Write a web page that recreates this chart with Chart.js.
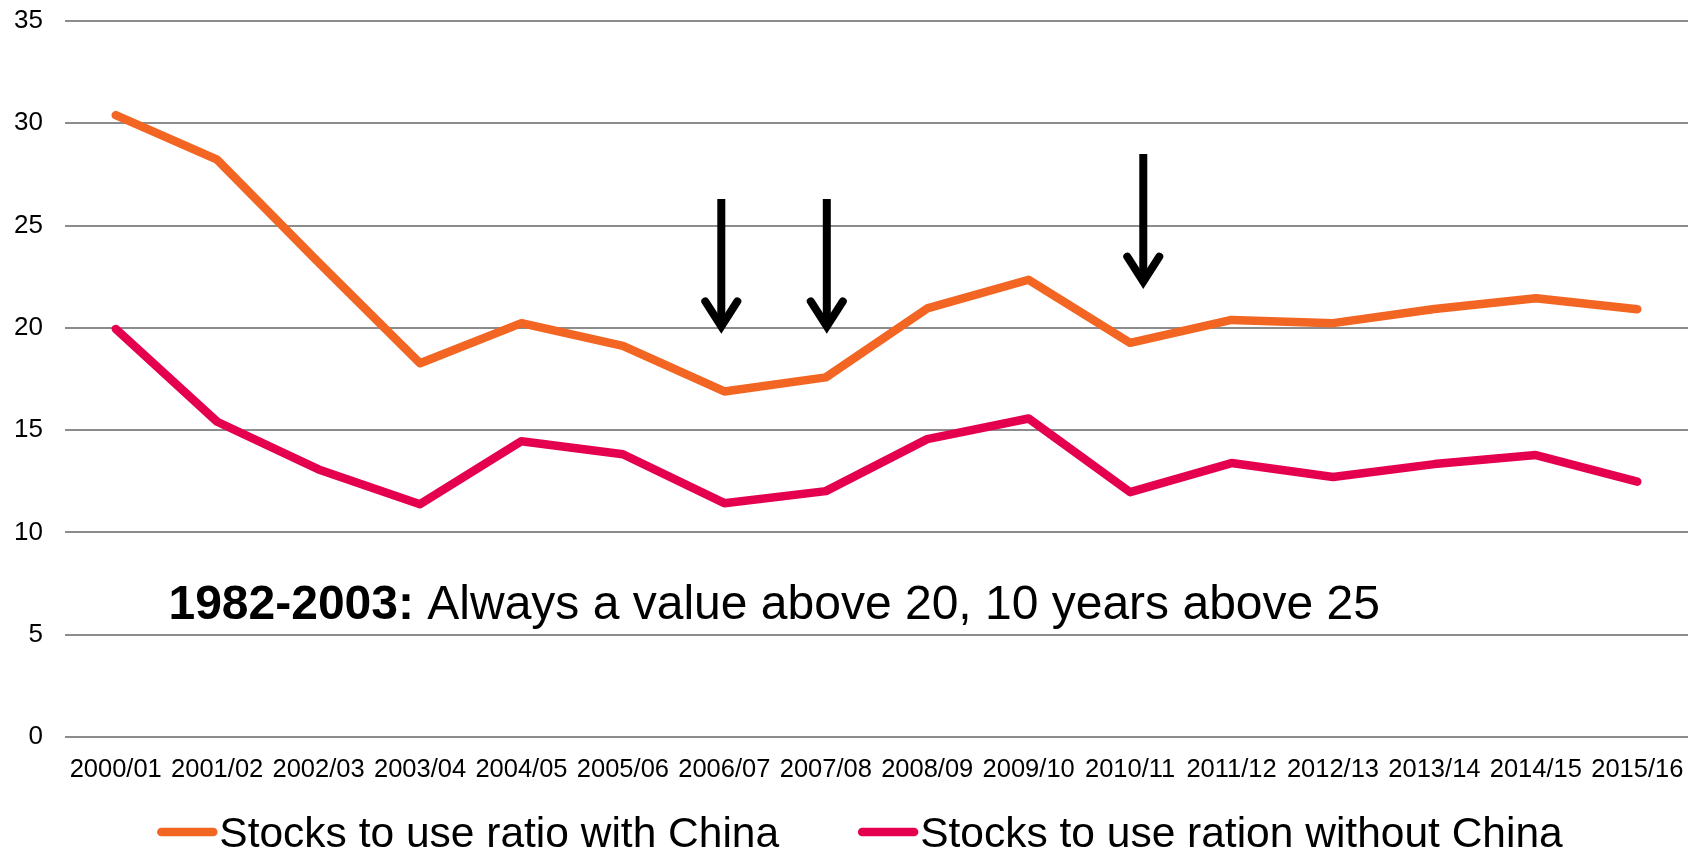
<!DOCTYPE html>
<html><head><meta charset="utf-8">
<script src="https://cdn.jsdelivr.net/npm/chart.js@4.4.1/dist/chart.umd.min.js"></script>
<style>html,body{margin:0;padding:0;background:#fff;overflow:hidden}</style>
</head><body>
<canvas id="c" width="1700" height="852"></canvas>
<script>
const categories = ['2000/01','2001/02','2002/03','2003/04','2004/05','2005/06','2006/07','2007/08','2008/09','2009/10','2010/11','2011/12','2012/13','2013/14','2014/15','2015/16'];
const withChina = [30.4, 28.22, 23.2, 18.27, 20.23, 19.12, 16.89, 17.58, 20.95, 22.35, 19.27, 20.39, 20.23, 20.92, 21.45, 20.91];
const withoutChina = [19.95, 15.41, 13.08, 11.38, 14.46, 13.82, 11.43, 12.02, 14.56, 15.57, 11.97, 13.39, 12.71, 13.34, 13.78, 12.48];
const seriesLabels = ['Stocks to use ratio with China', 'Stocks to use ration without China'];
const seriesColors = ['#F26522', '#E5004F'];
const yMin = 0, yMax = 35, yStep = 5;
// arrows: category index position, value where shaft starts, value of the head vertex
const arrowX = [5.97, 7.01, 10.13];
const arrowFrom = [26.3, 26.3, 28.5];
const arrowTo = [20.07, 20.07, 22.26];
const noteBold = '1982-2003:';
const noteRest = ' Always a value above 20, 10 years above 25';
const noteAt = {x: 0.52, y: 5.77};

const FONT = '"Liberation Sans", Arial, sans-serif';

const overlay = {
  id: 'overlay',
  afterDatasetsDraw(chart) {
    const ctx = chart.ctx, xs = chart.scales.x, ys = chart.scales.y;
    ctx.save();
    ctx.strokeStyle = '#000';
    ctx.lineWidth = 8;
    for (let i = 0; i < arrowX.length; i++) {
      const x = xs.getPixelForValue(arrowX[i]);
      const y0 = ys.getPixelForValue(arrowFrom[i]);
      const y1 = ys.getPixelForValue(arrowTo[i]);
      ctx.lineCap = 'butt';
      ctx.beginPath(); ctx.moveTo(x, y0); ctx.lineTo(x, y1); ctx.stroke();
      ctx.lineCap = 'round'; ctx.lineJoin = 'miter'; ctx.miterLimit = 10;
      ctx.beginPath(); ctx.moveTo(x - 16, y1 - 25); ctx.lineTo(x, y1); ctx.lineTo(x + 16, y1 - 25); ctx.stroke();
    }
    const nx = xs.getPixelForValue(noteAt.x), ny = ys.getPixelForValue(noteAt.y);
    ctx.fillStyle = '#000';
    ctx.textBaseline = 'alphabetic';
    ctx.textAlign = 'left';
    ctx.font = 'bold 48px ' + FONT;
    ctx.fillText(noteBold, nx, ny);
    const bw = ctx.measureText(noteBold).width;
    ctx.font = '48px ' + FONT;
    ctx.fillText(noteRest, nx + bw, ny);
    ctx.restore();
  },
  afterDraw(chart) {
    const ctx = chart.ctx;
    ctx.save();
    ctx.font = '42.5px ' + FONT;
    const lineLen = 60, gapText = 2, gapItems = 79;
    const widths = seriesLabels.map(t => ctx.measureText(t).width);
    const total = widths.reduce((a, w) => a + lineLen + gapText + w, 0) + gapItems;
    let x = (chart.width - total) / 2 + 10;
    const yLine = 832, yText = 847;
    for (let i = 0; i < seriesLabels.length; i++) {
      ctx.strokeStyle = seriesColors[i];
      ctx.lineWidth = 8.5; ctx.lineCap = 'round';
      ctx.beginPath(); ctx.moveTo(x + 4, yLine); ctx.lineTo(x + lineLen - 4, yLine); ctx.stroke();
      ctx.fillStyle = '#000'; ctx.textBaseline = 'alphabetic'; ctx.textAlign = 'left';
      ctx.fillText(seriesLabels[i], x + lineLen + gapText, yText);
      x += lineLen + gapText + widths[i] + gapItems;
    }
    ctx.restore();
  }
};

new Chart(document.getElementById('c'), {
  type: 'line',
  data: {
    labels: categories,
    datasets: [
      {label: seriesLabels[0], data: withChina, borderColor: seriesColors[0], backgroundColor: seriesColors[0], borderWidth: 8.5, pointRadius: 0, tension: 0, borderCapStyle: 'round', borderJoinStyle: 'round'},
      {label: seriesLabels[1], data: withoutChina, borderColor: seriesColors[1], backgroundColor: seriesColors[1], borderWidth: 8.5, pointRadius: 0, tension: 0, borderCapStyle: 'round', borderJoinStyle: 'round'}
    ]
  },
  options: {
    responsive: false,
    animation: false,
    layout: {padding: {left: 0, right: 12, top: 21, bottom: 69}},
    plugins: {legend: {display: false}, tooltip: {enabled: false}},
    scales: {
      x: {
        offset: true,
        grid: {display: false, drawTicks: false},
        border: {display: false},
        ticks: {color: '#000', font: {family: FONT, size: 25.5}, padding: 18, autoSkip: false, maxRotation: 0, minRotation: 0},
        afterFit(s) { s.height = 46; s.paddingLeft = 0; s.paddingRight = 0; }
      },
      y: {
        min: yMin, max: yMax,
        grid: {color: '#8C8C8C', lineWidth: 2, drawTicks: false},
        border: {display: false},
        ticks: {stepSize: yStep, color: '#000', font: {family: FONT, size: 26}, padding: 22},
        afterFit(s) { s.width = 65; s.paddingTop = 0; s.paddingBottom = 0; }
      }
    }
  },
  plugins: [overlay]
});
</script>
</body></html>
